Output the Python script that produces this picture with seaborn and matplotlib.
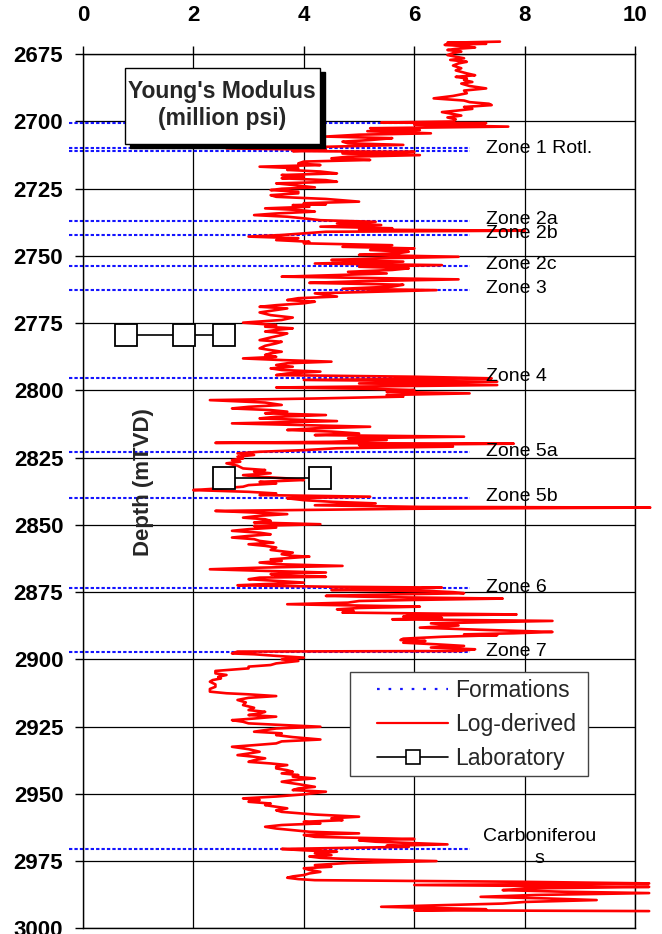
import matplotlib
matplotlib.use("Agg")
import matplotlib.pyplot as plt
from matplotlib.patches import Rectangle
from matplotlib.lines import Line2D
import pandas as pd
import seaborn as sns

# Log-derived Young's modulus (million psi) against true vertical depth (m)
DEPTH = [
    2670.3, 2670.7, 2671.1, 2671.5, 2672.0, 2672.5, 2673.0, 2673.4, 2674.0, 2674.6,
    2675.3, 2675.9, 2676.5, 2677.1, 2677.8, 2678.4, 2679.2, 2680.2, 2681.0, 2682.1,
    2682.8, 2683.4, 2684.0, 2684.6, 2685.3, 2685.9, 2686.8, 2687.7, 2688.5, 2689.5,
    2690.5, 2691.4, 2692.2, 2692.8, 2693.4, 2693.9, 2694.6, 2695.3, 2696.0, 2696.5,
    2697.2, 2697.8, 2698.5, 2699.2, 2700.0, 2700.4, 2700.6, 2701.2, 2701.9, 2702.5,
    2703.2, 2703.6, 2704.4, 2704.9, 2705.6, 2706.2, 2706.9, 2707.5, 2708.1, 2708.7,
    2709.4, 2710.0, 2710.5, 2711.0, 2711.3, 2711.9, 2712.5, 2713.1, 2713.7, 2714.3,
    2714.9, 2715.6, 2716.2, 2716.8, 2717.4, 2718.0, 2718.6, 2719.3, 2719.9, 2720.5,
    2721.1, 2721.8, 2722.4, 2723.0, 2723.6, 2724.5, 2725.0, 2725.5, 2726.1, 2726.7,
    2727.4, 2728.0, 2728.8, 2729.8, 2730.4, 2730.8, 2731.1, 2731.7, 2732.3, 2732.9,
    2733.5, 2734.2, 2734.8, 2735.4, 2736.0, 2736.7, 2737.3, 2737.9, 2738.5, 2739.1,
    2739.7, 2740.2, 2740.6, 2741.0, 2741.6, 2742.2, 2742.8, 2743.4, 2744.1, 2744.7,
    2745.3, 2746.0, 2746.6, 2747.2, 2747.8, 2748.4, 2749.0, 2749.6, 2750.3, 2750.9,
    2751.5, 2752.1, 2752.8, 2753.4, 2754.0, 2754.6, 2755.2, 2755.9, 2756.5, 2757.1,
    2757.7, 2758.2, 2758.7, 2759.4, 2760.0, 2760.7, 2761.4, 2762.2, 2762.7, 2763.9,
    2765.1, 2765.7, 2766.4, 2767.0, 2767.6, 2768.3, 2768.9, 2769.5, 2770.1, 2771.0,
    2772.0, 2772.9, 2773.8, 2774.8, 2775.7, 2776.3, 2776.9, 2777.5, 2778.1, 2778.8,
    2779.4, 2780.3, 2781.3, 2781.9, 2782.5, 2783.4, 2784.35, 2785.0, 2785.6, 2786.2,
    2786.8, 2787.5, 2788.1, 2788.7, 2789.3, 2789.9, 2790.55, 2791.2, 2791.8, 2792.4,
    2793.0, 2793.7, 2794.3, 2794.9, 2795.5, 2796.1, 2796.75, 2797.4, 2798.0, 2798.9,
    2799.4, 2799.85, 2800.5, 2801.1, 2801.7, 2802.3, 2803.0, 2803.6, 2804.5, 2805.4,
    2806.1, 2806.7, 2807.3, 2807.9, 2808.5, 2809.15, 2809.8, 2810.4, 2811.4, 2812.25,
    2812.9, 2813.5, 2814.1, 2814.7, 2815.3, 2816.0, 2816.6, 2817.2, 2817.8, 2818.45,
    2819.1, 2819.5, 2819.8, 2820.3, 2820.9, 2821.5, 2822.2, 2822.8, 2823.4, 2824.0,
    2824.65, 2825.3, 2825.9, 2826.5, 2827.1, 2828.0, 2829.0, 2829.6, 2830.2, 2830.8,
    2831.5, 2832.1, 2832.7, 2833.3, 2834.0, 2834.6, 2835.2, 2835.8, 2836.4, 2837.05,
    2837.7, 2838.3, 2838.9, 2839.5, 2840.1, 2840.8, 2841.4, 2842.0, 2842.7, 2843.3,
    2843.55, 2844.0, 2844.8, 2845.4, 2846.0, 2846.6, 2847.3, 2847.9, 2848.5, 2849.1,
    2849.75, 2850.4, 2851.0, 2851.6, 2852.2, 2852.9, 2853.5, 2854.1, 2854.7, 2855.3,
    2855.95, 2856.6, 2857.2, 2857.8, 2858.4, 2859.3, 2860.3, 2860.9, 2861.5, 2861.8,
    2862.8, 2863.4, 2864.0, 2864.6, 2865.25, 2865.9, 2866.5, 2867.1, 2867.7, 2868.3,
    2869.0, 2869.3, 2869.6, 2870.2, 2870.8, 2871.45, 2872.0, 2872.45, 2873.0, 2873.3,
    2873.8, 2874.2, 2874.6, 2875.0, 2875.4, 2876.0, 2876.4, 2876.9, 2877.4, 2877.9,
    2878.3, 2878.9, 2879.5, 2880.0, 2880.4, 2880.9, 2881.4, 2882.0, 2882.6, 2883.3,
    2883.7, 2884.1, 2884.6, 2885.1, 2885.7, 2886.1, 2886.6, 2887.4, 2888.2, 2889.0,
    2889.8, 2890.3, 2890.7, 2891.0, 2891.6, 2892.3, 2892.8, 2893.15, 2893.8, 2894.4,
    2895.0, 2895.6, 2896.25, 2896.9, 2897.1, 2897.8, 2898.1, 2898.7, 2899.35, 2900.0,
    2900.6, 2901.5, 2902.1, 2902.7, 2903.35, 2904.3, 2905.2, 2905.8, 2906.5, 2907.1,
    2907.7, 2908.3, 2909.3, 2910.2, 2911.0, 2912.0, 2912.6, 2913.0, 2913.65, 2914.3,
    2915.1, 2916.0, 2917.0, 2918.0, 2918.85, 2919.5, 2920.1, 2920.7, 2921.3, 2922.0,
    2922.6, 2923.2, 2923.8, 2924.4, 2925.05, 2925.7, 2926.3, 2926.9, 2927.5, 2928.15,
    2928.9, 2929.8, 2930.5, 2931.25, 2931.9, 2932.5, 2933.4, 2934.35, 2935.0, 2935.6,
    2936.2, 2936.8, 2937.5, 2938.1, 2938.7, 2939.3, 2939.9, 2940.55, 2941.2, 2941.8,
    2942.4, 2943.0, 2943.6, 2944.25, 2944.9, 2945.5, 2946.4, 2947.4, 2948.0, 2948.6,
    2949.2, 2950.2, 2951.0, 2951.7, 2952.3, 2952.95, 2953.6, 2954.2, 2954.8, 2955.4,
    2956.1, 2956.7, 2957.7, 2958.5, 2959.1, 2959.8, 2960.4, 2961.0, 2961.6, 2962.25,
    2962.9, 2963.5, 2964.1, 2964.7, 2965.3, 2966.0, 2966.8, 2967.3, 2967.8, 2968.8,
    2969.3, 2969.7, 2970.5, 2971.0, 2971.5, 2972.1, 2972.8, 2973.3, 2973.8, 2974.4,
    2975.0, 2975.7, 2976.5, 2977.1, 2977.7, 2978.3, 2979.0, 2979.6, 2980.2, 2980.7,
    2981.2, 2981.7, 2982.1, 2982.7, 2983.3, 2983.9, 2984.6, 2985.2, 2985.8, 2986.4,
    2986.9, 2987.6, 2988.3, 2988.9, 2989.5, 2990.2, 2990.8, 2991.4, 2992.0, 2992.9,
    2993.3, 2993.6,
]
MODULUS = [
    7.55, 6.60, 7.30, 6.55, 6.90, 7.10, 6.75, 6.60, 6.85, 6.70,
    6.60, 6.75, 6.90, 6.65, 6.95, 6.80, 6.70, 6.85, 6.75, 6.95,
    7.10, 6.75, 6.95, 6.90, 7.05, 6.85, 7.00, 7.30, 6.90, 6.95,
    6.70, 6.35, 6.90, 7.00, 7.35, 7.40, 6.90, 7.05, 6.75, 6.50,
    6.70, 6.85, 6.60, 6.75, 6.70, 5.40, 7.30, 6.00, 7.70, 5.20,
    6.10, 5.15, 6.30, 5.00, 4.40, 5.60, 5.20, 4.70, 4.80, 5.80,
    4.40, 2.60, 4.40, 3.80, 6.00, 4.70, 6.10, 4.80, 4.50, 5.20,
    4.00, 3.90, 4.30, 3.20, 3.90, 3.70, 4.30, 4.60, 3.60, 4.00,
    3.60, 4.40, 4.60, 3.50, 3.80, 4.20, 3.60, 3.40, 3.90, 3.90,
    3.40, 3.50, 4.40, 5.00, 4.00, 4.40, 3.80, 4.10, 3.30, 3.90,
    4.20, 3.50, 3.10, 3.70, 4.00, 4.30, 5.30, 4.60, 5.40, 4.30,
    5.60, 5.00, 8.00, 4.40, 4.00, 3.60, 3.00, 3.90, 3.50, 4.10,
    4.00, 5.60, 4.70, 6.00, 5.20, 5.90, 5.70, 5.00, 6.80, 5.30,
    4.50, 5.80, 4.20, 6.50, 5.00, 5.90, 5.60, 4.80, 5.50, 4.60,
    3.60, 5.20, 6.80, 5.00, 4.10, 5.80, 5.60, 4.70, 6.40, 4.20,
    4.60, 3.90, 3.70, 4.20, 4.00, 3.50, 3.20, 3.70, 3.50, 3.20,
    3.40, 3.80, 3.60, 2.90, 3.50, 3.30, 3.80, 3.50, 3.30, 3.70,
    3.60, 3.40, 3.20, 3.60, 3.50, 3.30, 3.20, 3.40, 3.60, 3.40,
    3.30, 3.50, 2.90, 3.60, 4.50, 3.70, 3.50, 3.80, 3.40, 3.60,
    4.30, 3.70, 3.50, 6.00, 7.40, 4.00, 7.50, 5.00, 7.50, 3.50,
    5.20, 6.00, 5.50, 7.00, 5.50, 5.80, 4.20, 2.30, 3.30, 3.60,
    3.00, 2.70, 3.40, 3.70, 3.30, 4.40, 3.50, 3.20, 4.60, 2.70,
    4.00, 5.20, 4.20, 3.70, 4.50, 5.00, 4.20, 6.90, 4.80, 5.50,
    4.50, 2.40, 7.80, 5.00, 6.70, 4.60, 4.00, 3.20, 2.80, 3.10,
    2.80, 2.90, 2.70, 2.85, 2.60, 2.80, 2.90, 3.30, 3.10, 3.40,
    2.90, 3.20, 3.70, 4.00, 3.20, 3.50, 3.00, 2.90, 2.50, 2.00,
    3.00, 3.50, 3.20, 5.20, 3.70, 4.00, 4.50, 5.30, 4.20, 6.10,
    10.27, 6.00, 2.40, 3.10, 3.70, 3.20, 2.90, 3.30, 3.40, 3.10,
    4.30, 3.10, 3.50, 3.00, 2.70, 3.20, 3.40, 3.00, 2.70, 3.10,
    3.20, 3.45, 3.00, 3.30, 3.50, 3.40, 3.80, 3.60, 3.80, 4.10,
    3.40, 3.60, 3.20, 3.50, 4.70, 3.20, 2.30, 3.30, 4.40, 3.40,
    3.60, 4.40, 3.20, 3.00, 3.50, 4.00, 3.30, 2.80, 4.50, 6.50,
    5.80, 4.50, 6.30, 6.70, 6.90, 5.20, 4.40, 5.60, 7.60, 6.00,
    5.00, 4.80, 3.70, 5.00, 6.10, 5.00, 4.60, 4.90, 4.70, 7.85,
    5.90, 5.80, 6.50, 5.60, 8.50, 7.50, 6.30, 6.80, 6.10, 7.20,
    8.50, 7.80, 6.90, 7.50, 6.50, 5.80, 5.75, 6.20, 5.80, 6.40,
    6.90, 6.30, 7.10, 6.80, 2.80, 2.70, 3.10, 3.50, 4.00, 3.60,
    3.90, 3.50, 3.40, 3.00, 3.00, 2.40, 2.40, 2.60, 2.45, 2.50,
    2.35, 2.30, 2.40, 2.40, 2.30, 2.30, 2.60, 3.00, 3.50, 3.00,
    2.80, 2.95, 2.90, 3.10, 3.00, 3.30, 3.20, 3.00, 3.50, 3.10,
    2.70, 2.90, 3.00, 3.60, 4.30, 3.50, 3.30, 3.10, 3.60, 3.50,
    3.80, 4.30, 3.60, 3.50, 3.10, 2.70, 3.00, 3.20, 3.00, 2.80,
    3.10, 3.30, 3.10, 3.00, 3.40, 3.70, 3.50, 3.50, 3.70, 3.80,
    3.60, 3.90, 3.80, 4.20, 3.80, 3.60, 3.90, 4.20, 3.90, 3.80,
    4.40, 4.00, 3.50, 2.90, 3.20, 3.00, 3.40, 3.30, 3.50, 3.70,
    3.50, 3.60, 4.20, 5.00, 4.50, 4.70, 4.00, 4.30, 3.60, 3.30,
    3.50, 3.80, 4.10, 5.00, 4.00, 4.20, 6.00, 5.00, 5.30, 6.60,
    5.50, 5.90, 3.60, 4.00, 4.60, 4.20, 4.50, 4.10, 4.30, 5.00,
    6.40, 4.80, 4.20, 4.50, 4.00, 4.10, 4.30, 4.10, 4.00, 3.80,
    3.70, 3.90, 4.20, 7.90, 10.25, 6.00, 10.25, 8.00, 7.60, 8.70,
    10.25, 8.20, 7.20, 8.40, 9.30, 8.00, 7.60, 6.50, 5.40, 7.30,
    6.00, 10.25,
]

# Core laboratory measurements, two sample sets
LAB_SET = ["A", "A", "A", "B", "B"]
LAB_DEPTH = [2779.4, 2779.4, 2779.4, 2832.5, 2832.5]
LAB_MODULUS = [0.78, 1.83, 2.55, 2.55, 4.30]

# Formation tops (m TVD) and zone names
FORMATION_TOPS = [2700.6, 2710.0, 2710.8, 2737.0, 2742.2, 2753.6, 2762.6,
                  2795.4, 2823.0, 2839.9, 2873.6, 2897.3, 2970.5]
ZONE_NAMES = ["Zone 1 Rotl.", "Zone 2a", "Zone 2b", "Zone 2c", "Zone 3",
              "Zone 4", "Zone 5a", "Zone 5b", "Zone 6", "Zone 7"]
ZONE_DEPTHS = [2710.4, 2737.0, 2742.2, 2753.6, 2762.6,
               2795.4, 2823.0, 2839.9, 2873.6, 2897.3]
CARB_NAME = "Carboniferou\ns"
CARB_DEPTH = 2970.0

X_TICKS = [0, 2, 4, 6, 8, 10]
Y_TICKS = list(range(2675, 3001, 25))

sns.set_theme(style="white")
plt.rcParams["font.family"] = ["Liberation Sans", "DejaVu Sans"]

fig = plt.figure(figsize=(6.62, 9.34), dpi=100)
ax = fig.add_axes([0.1251, 0.0061, 0.8346, 0.9358])

log_df = pd.DataFrame({"depth": DEPTH, "modulus": MODULUS})
lab_df = pd.DataFrame({"set": LAB_SET, "depth": LAB_DEPTH, "modulus": LAB_MODULUS})

FORM_DASH = (0, (1.6, 1.0))

# formation tops
ax.hlines(FORMATION_TOPS, -0.25, 7.0, colors="#1414ff", linestyles=[FORM_DASH],
          linewidth=1.5, clip_on=False, zorder=2)

# log-derived curve
sns.lineplot(data=log_df, x="modulus", y="depth", sort=False, estimator=None,
             color="#ff0000", linewidth=1.9, ax=ax, clip_on=False, zorder=3)

# laboratory measurements
sns.lineplot(data=lab_df, x="modulus", y="depth", units="set", estimator=None,
             sort=False, color="black", linewidth=1.2, marker="s", markersize=16.5,
             markerfacecolor="white", markeredgecolor="black", markeredgewidth=1.3,
             ax=ax, legend=False, zorder=4)

ax.set_xlim(0, 10)
ax.set_ylim(3000, 2675)
ax.set_xlabel("")
ax.set_ylabel("")
ax.xaxis.tick_top()
ax.set_xticks(X_TICKS)
ax.set_yticks(Y_TICKS)
ax.set_xticklabels([str(v) for v in X_TICKS], fontweight="bold", fontsize=16)
ax.set_yticklabels([str(v) for v in Y_TICKS], fontweight="bold", fontsize=16)
ax.tick_params(axis="x", which="major", top=True, bottom=False, direction="out",
               length=6, width=1, color="black", pad=14, labelcolor="black")
ax.tick_params(axis="y", which="major", left=True, right=False, direction="out",
               length=6, width=1, color="black", pad=8, labelcolor="black")
ax.grid(True, color="black", linewidth=0.9)
ax.set_axisbelow(True)
for sp in ax.spines.values():
    sp.set_color("black")
    sp.set_linewidth(1.0)

# zone names
for name, d in zip(ZONE_NAMES, ZONE_DEPTHS):
    ax.text(7.29, d - 0.4, name, fontsize=14, ha="left", va="center",
            color="black", zorder=5)
ax.text(8.27, CARB_DEPTH, CARB_NAME, fontsize=14, ha="center", va="center",
        linespacing=1.35, color="black", zorder=5)

# title box with drop shadow
bx0, bx1, by0, by1 = 0.76, 4.29, 2680.1, 2708.2
ax.add_patch(Rectangle((bx0 + 0.10, by0 + 1.6), bx1 - bx0, by1 - by0,
                       facecolor="black", edgecolor="black", zorder=6))
ax.add_patch(Rectangle((bx0, by0), bx1 - bx0, by1 - by0,
                       facecolor="white", edgecolor="black", linewidth=1.0, zorder=7))
ax.text((bx0 + bx1) / 2, (by0 + by1) / 2 - 0.3, "Young's Modulus\n(million psi)",
        fontsize=16.5, fontweight="bold", ha="center", va="center",
        linespacing=1.2, zorder=8)

# depth label inside the track
ax.text(1.10, 2834.1, "Depth (mTVD)", rotation=90, fontsize=16,
        fontweight="bold", ha="center", va="center", zorder=5)

# legend
handles = [
    Line2D([], [], color="#1414ff", linestyle=(0, (1.2, 4.0)), linewidth=1.6),
    Line2D([], [], color="#ff0000", linewidth=1.6),
    Line2D([], [], color="black", linewidth=1.2, marker="s", markersize=9.5,
           markerfacecolor="white", markeredgecolor="black", markeredgewidth=1.2),
]
ax.add_patch(Rectangle((0.4836, 0.1743), 0.9144 - 0.4836, 0.2933 - 0.1743,
                       transform=ax.transAxes, facecolor="white",
                       edgecolor="#444444", linewidth=1.0, zorder=9))
leg = ax.legend(handles, ["Formations", "Log-derived", "Laboratory"],
                loc="upper left", bbox_to_anchor=(0.5325, 0.2850),
                frameon=False, fontsize=16.5, borderpad=0, borderaxespad=0,
                handlelength=3.1, handletextpad=0.3, labelspacing=0.48)
leg.set_zorder(10)

fig.savefig("out.png", dpi=100)
